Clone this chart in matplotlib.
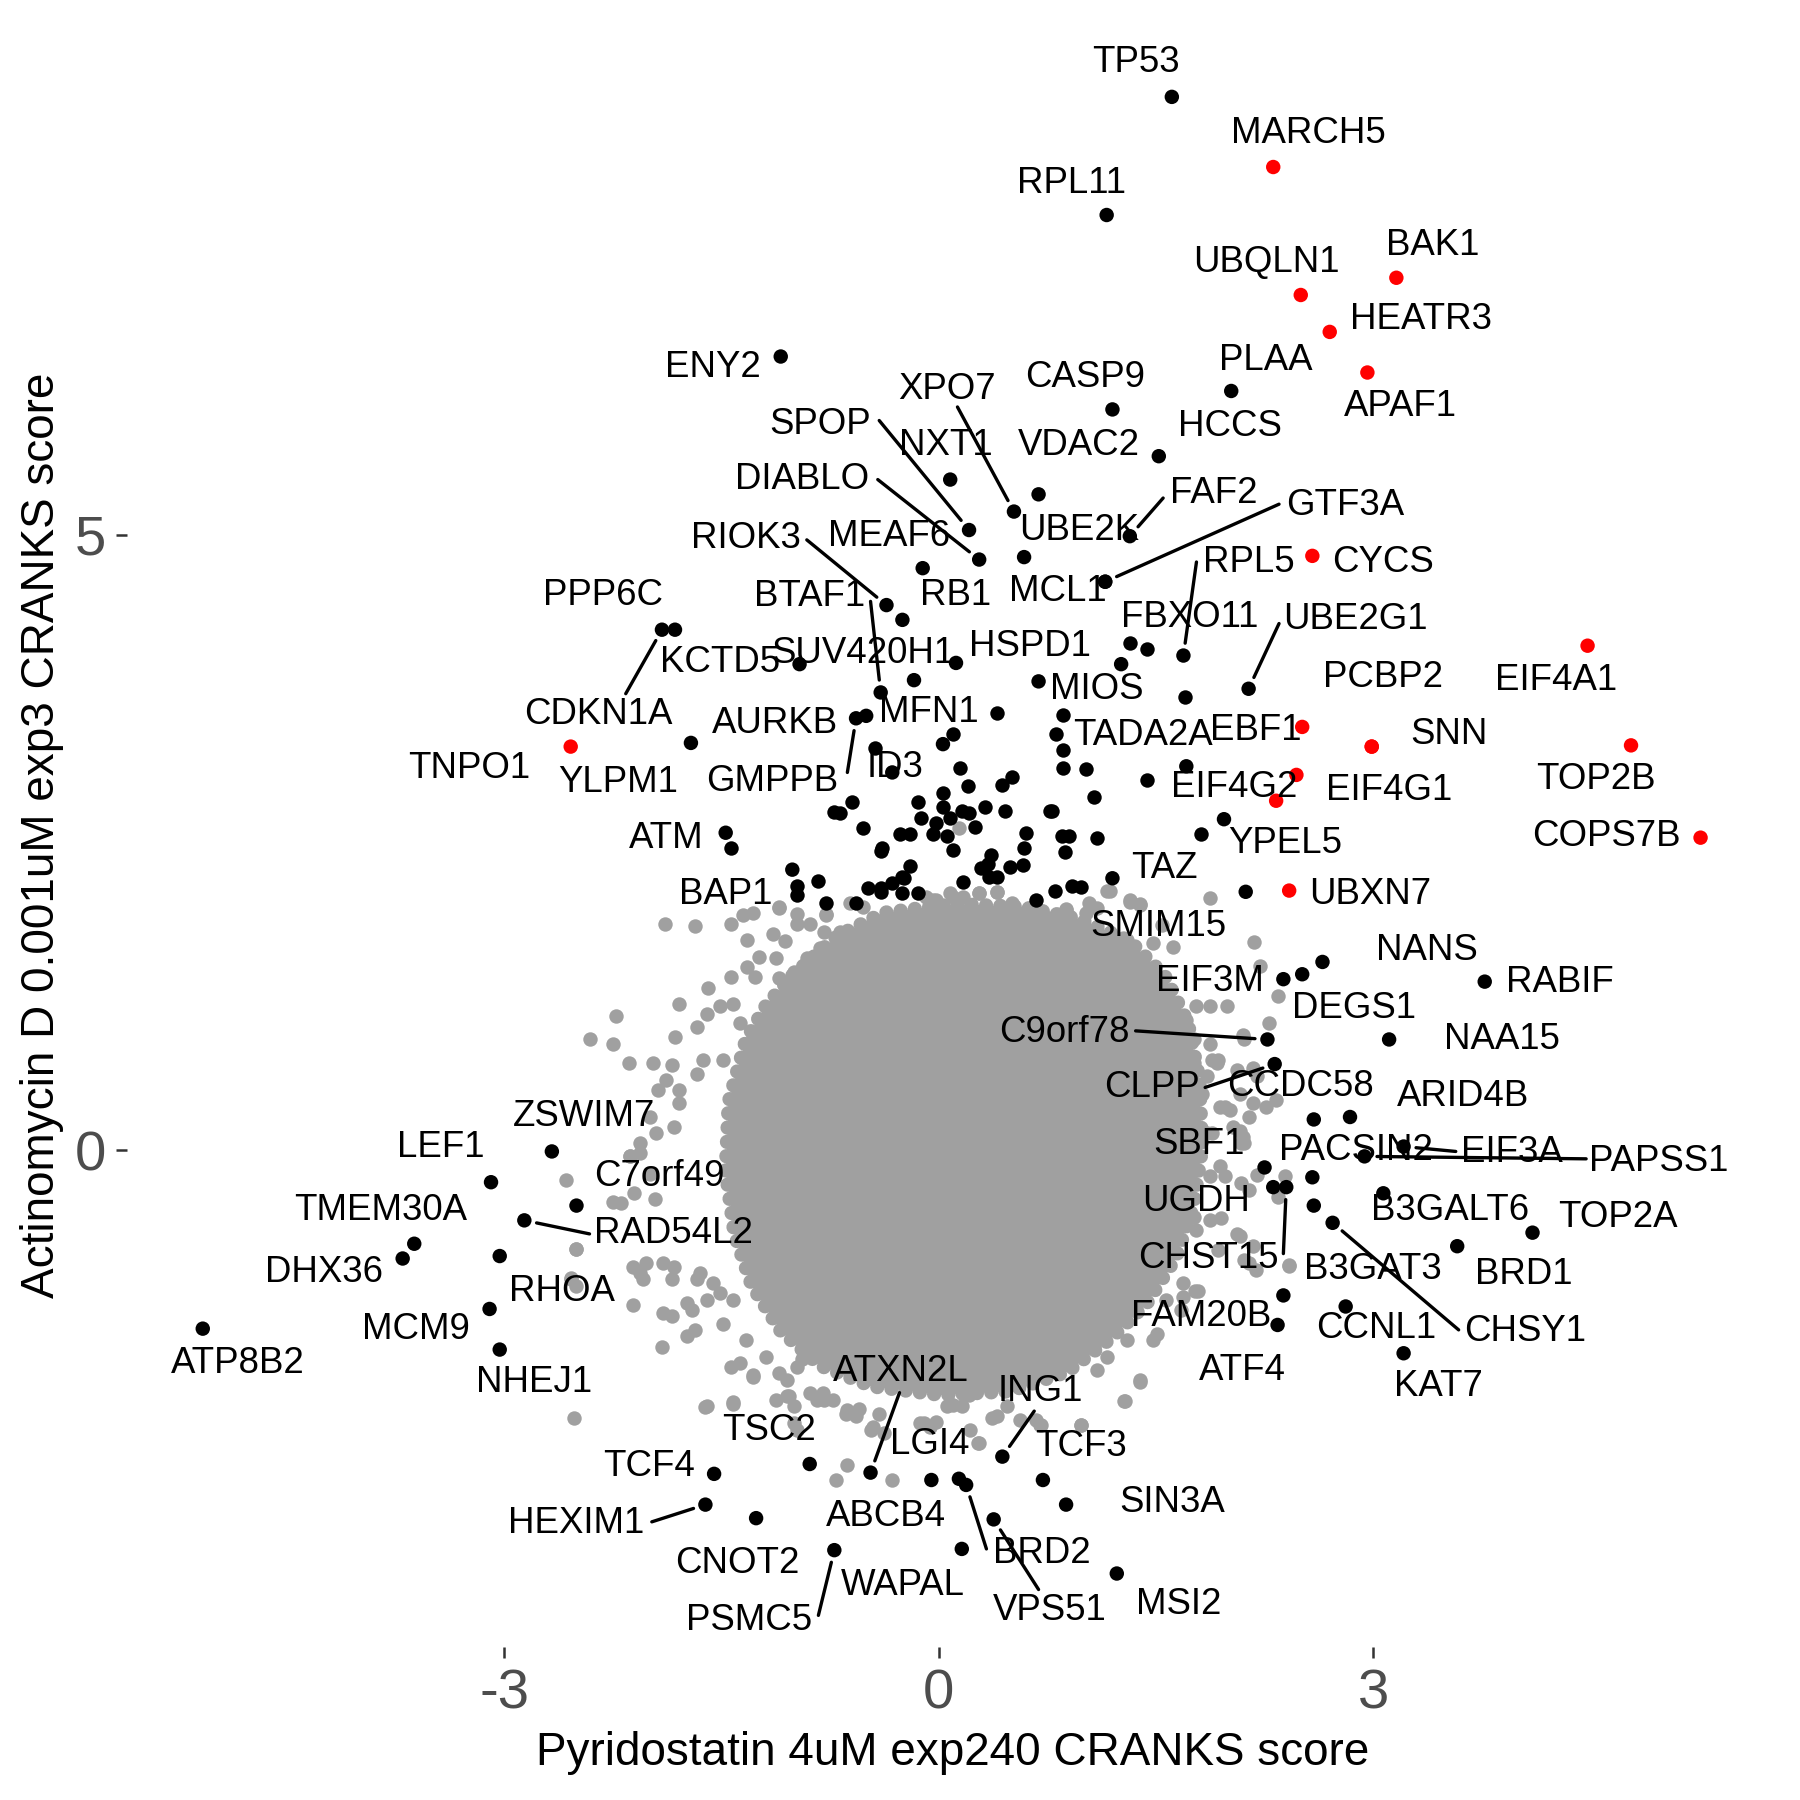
import matplotlib
matplotlib.use("Agg")
import matplotlib.pyplot as plt

plt.rcParams['font.family'] = ['Liberation Sans', 'DejaVu Sans']
plt.rcParams['axes.unicode_minus'] = False

# ---- data -------------------------------------------------------------
# labelled genes: name, x score, y score, hit (red) or not
genes = ["TP53", "MARCH5", "RPL11", "BAK1", "UBQLN1", "HEATR3", "APAF1", "ENY2",
         "PLAA", "CASP9", "HCCS", "VDAC2", "XPO7", "NXT1", "SPOP", "DIABLO",
         "MEAF6", "UBE2K", "FAF2", "GTF3A", "MCL1", "RB1", "BTAF1", "RIOK3",
         "PPP6C", "CDKN1A", "KCTD5", "SUV420H1", "HSPD1", "MIOS", "FBXO11", "RPL5",
         "UBE2G1", "CYCS", "EIF4A1", "PCBP2", "SNN", "EBF1", "EIF4G1", "EIF4G2",
         "TADA2A", "MFN1", "AURKB", "GMPPB", "ID3", "YLPM1", "TNPO1", "ATM",
         "BAP1", "TAZ", "YPEL5", "SMIM15", "UBXN7", "TOP2B", "COPS7B", "NANS",
         "RABIF", "EIF3M", "DEGS1", "NAA15", "C9orf78", "CLPP", "CCDC58", "ARID4B",
         "SBF1", "PACSIN2", "EIF3A", "PAPSS1", "UGDH", "CHST15", "B3GALT6", "B3GAT3",
         "CHSY1", "TOP2A", "BRD1", "FAM20B", "ATF4", "CCNL1", "KAT7", "LEF1",
         "ZSWIM7", "C7orf49", "RAD54L2", "TMEM30A", "DHX36", "RHOA", "MCM9", "NHEJ1",
         "ATP8B2", "ATXN2L", "ING1", "TSC2", "LGI4", "TCF3", "TCF4", "SIN3A",
         "HEXIM1", "ABCB4", "CNOT2", "BRD2", "WAPAL", "VPS51", "MSI2", "PSMC5"]
gene_x = [1.61, 2.31, 1.16, 3.16, 2.50, 2.70, 2.96, -1.09,
          2.02, 1.20, 1.52, 0.69, 0.52, 0.08, 0.21, 0.28,
          -0.11, 0.59, 1.32, 1.15, 1.15, -0.25, -0.40, -0.36,
          -1.82, -1.91, -0.96, -0.17, 0.12, 0.69, 1.26, 1.69,
          2.14, 2.58, 4.48, 2.99, 2.99, 2.51, 2.47, 2.33,
          1.71, 0.03, -0.50, -0.57, -0.32, -1.71, -2.54, -1.47,
          -1.01, 1.20, 1.97, 2.12, 2.42, 4.78, 5.26, 2.65,
          3.77, 2.38, 2.51, 3.11, 2.27, 2.32, 2.59, 2.84,
          2.25, 2.58, 3.21, 2.94, 2.31, 2.40, 3.07, 2.59,
          2.72, 4.10, 3.58, 2.38, 2.34, 2.81, 3.21, -3.09,
          -2.67, -2.50, -2.86, -3.62, -3.70, -3.03, -3.10, -3.03,
          -5.08, -0.47, 0.44, -0.89, -0.05, 0.72, -1.55, 0.88,
          -1.61, 0.14, -1.26, 0.19, 0.16, 0.38, 1.23, -0.72]
gene_y = [8.56, 7.99, 7.60, 7.09, 6.95, 6.65, 6.32, 6.45,
          6.17, 6.02, 5.64, 5.33, 5.19, 5.45, 5.04, 4.80,
          4.73, 4.82, 4.99, 4.62, 4.62, 4.31, 3.72, 4.43,
          4.23, 4.23, 3.95, 3.82, 3.96, 3.81, 3.95, 4.02,
          3.75, 4.83, 4.10, 3.28, 3.28, 3.44, 3.05, 2.84,
          3.12, 3.30, 3.53, 3.51, 3.07, 3.31, 3.28, 2.58,
          2.28, 2.21, 2.69, 2.10, 2.11, 3.29, 2.54, 1.53,
          1.37, 1.39, 1.43, 0.90, 0.90, 0.70, 0.25, 0.27,
          -0.14, -0.22, 0.03, -0.05, -0.30, -0.30, -0.35, -0.45,
          -0.59, -0.67, -0.78, -1.18, -1.42, -1.27, -1.65, -0.26,
          -0.01, -0.45, -0.57, -0.76, -0.88, -0.86, -1.29, -1.62,
          -1.45, -2.62, -2.49, -2.55, -2.68, -2.68, -2.63, -2.88,
          -2.88, -2.67, -2.99, -2.72, -3.24, -3.00, -3.44, -3.25]
hits = {"MARCH5", "BAK1", "UBQLN1", "HEATR3", "APAF1", "CYCS", "EIF4A1", "PCBP2",
        "SNN", "EBF1", "EIF4G1", "EIF4G2", "TNPO1", "UBXN7", "TOP2B", "COPS7B"}

# other significant (black) genes without a label
other_x = [-0.44, -0.72, -0.68, -0.60, -0.52, -0.14, -0.12, 0.03, -0.39, -0.27,
           -0.20, -0.04, -0.02, -0.83, -0.98, -0.98, -0.20, -0.25, -0.32, -0.40,
           -0.78, -0.57, -0.49, -0.40, -0.14, -0.25, -0.24, -0.40, 0.40, 0.86,
           0.81, 0.86, 0.86, 1.02, 1.44, 1.07, 0.10, 0.15, 0.20, 0.03,
           0.08, 0.16, 0.21, 0.32, 0.46, 0.44, 0.51, 0.25, 0.06, 0.10,
           0.17, 0.29, 0.35, 0.40, 0.34, 0.49, 0.58, 0.59, 0.60, 0.36,
           0.67, 0.80, 0.92, 0.98, 0.77, 0.78, 0.85, 0.90, 0.87, 1.09,
           1.32, 1.44, 1.70, 1.81, -1.43]
other_y = [3.27, 2.75, 2.74, 2.83, 2.62, 2.83, 2.70, 2.90, 2.46, 2.57,
           2.57, 2.57, 2.66, 2.19, 2.15, 2.07, 2.31, 2.22, 2.17, 2.13,
           2.01, 2.01, 2.13, 2.10, 2.09, 2.09, 2.21, 2.43, 3.55, 3.54,
           3.38, 3.25, 3.11, 3.10, 3.01, 2.87, 3.38, 3.11, 2.96, 2.79,
           2.70, 2.76, 2.74, 2.79, 2.76, 2.97, 3.03, 2.63, 2.55, 2.44,
           2.18, 2.29, 2.22, 2.22, 2.33, 2.30, 2.32, 2.46, 2.58, 2.40,
           2.03, 2.11, 2.15, 2.14, 2.76, 2.76, 2.55, 2.55, 2.42, 2.54,
           4.12, 4.07, 3.68, 2.57, 2.46]

# non-significant genes: outline of the dense core plus the scattered ones around it
core_x = [-1.01, -0.70, -0.38, 0.10, 0.57, 0.97, 1.32, 1.56, 1.72, 1.80,
          1.82, 1.76, 1.64, 1.44, 1.20, 0.89, 0.49, 0.02, -0.46, -0.82,
          -1.09, -1.29, -1.41, -1.47, -1.45, -1.33, -1.19]
core_y = [1.42, 1.74, 1.93, 2.00, 1.98, 1.88, 1.70, 1.42, 1.04, 0.58,
          0.02, -0.45, -0.87, -1.24, -1.52, -1.80, -1.96, -1.99, -1.92, -1.75,
          -1.47, -1.10, -0.68, -0.17, 0.39, 0.90, 1.18]

ns_x = [-1.89, -1.68, -1.43, -1.32, -1.32, -1.43, -1.59, -1.79, -2.23, -2.41,
        -2.25, -2.14, -1.97, -1.84, -1.82, -1.51, -1.60, -1.42, -1.67, -1.24,
        -1.12, -1.06, -1.14, -1.28, -1.35, -1.10, -0.98, -0.89, -0.79, -0.78,
        -0.68, -0.91, -0.82, -1.27, -1.10, -1.00, -1.94, -1.88, -1.79, -1.99,
        -2.13, -2.06, -1.95, -1.83, -1.79, -1.67, -1.63, -1.49, -1.28, -1.37,
        -1.28,
        -2.57, -2.50, -2.54, -2.11, -1.90, -1.84, -1.91, -1.74, -1.68, -1.74,
        -1.70, -2.06, -2.04, -2.11, -2.02, -1.90, -1.83, -1.84, -1.60, -1.49,
        -1.43, -1.37, -1.28, -1.60, -1.42, -2.52, -2.25, -2.19, -2.10, -1.96,
        -2.13, -2.06, -1.99, -1.67, -1.65, -1.51, -1.56, -1.42, -1.33, -1.19,
        -1.10, -1.05, -1.00, -1.12, -1.05, -0.98, -0.94, -0.84, -0.80, -0.64,
        -0.57, -0.45, -0.38, -0.13, -0.06, -0.41, 0.08, -1.00, -0.98, -0.73,
        -2.50, -2.54, -2.50,
        -0.63, -0.71, -0.32, -1.61, -1.42, -1.28, 0.27, 0.22, 1.39, 1.29,
        0.98, 0.70, 0.56, 0.40, -0.63, -0.55, -0.47, -0.10, -0.02, -1.03,
        -0.89, -0.79, 0.32, 0.11, 0.16, 0.06,
        2.09, 2.20, 2.39, 2.34, 2.08, 2.17, 2.19, 2.11, 2.42, 1.95,
        1.87, 1.76, 1.78, 1.94, 1.87, 1.69, 1.79, 1.57, 1.69, 1.48,
        1.30, 1.36, 1.16, 1.07, 1.09, 1.39, 1.28, 0.98, 0.71, 0.67,
        0.47, 0.37, 0.28, 0.21, 0.10, 1.48, 1.39, 1.62,
        1.87, 2.18, 2.22, 2.34, 2.28, 2.11, 2.10, 2.17, 2.33, 2.26,
        2.10, 2.11, 1.89, 1.92, 1.87, 1.76, 1.76, 1.69, 1.64, 1.62,
        1.71, 1.78, 1.87, 1.99, 1.46, 1.40, 1.11, 1.20, 1.32, 1.39,
        1.16, 1.02, 1.09, 1.62, 1.48, 1.30, 1.54, 0.88, 0.75, 0.40,
        0.28, 0.10, -0.04, 2.01, 1.94, 2.08, 2.17, 1.89, 2.03, 1.85,
        1.82, 2.08,
        0.14, -1.10, -0.98, -0.78, -0.61, -0.52, -0.09, -0.02, 0.08, 0.17,
        0.28, 0.40, 0.51, 0.65, 0.88, 1.04, 1.18, 1.32, 1.39,
        1.93, 2.06, 2.20, 1.72, 1.98, 2.14, 1.85, 2.09, 1.98, 2.14,
        2.06, 1.93, 2.14, 1.77, 1.67, 1.51, 2.42]
ns_y = [1.84, 1.82, 1.84, 1.71, 1.49, 1.41, 1.32, 1.19, 1.09, 0.90,
        0.86, 0.71, 0.71, 0.69, 0.92, 1.17, 1.11, 1.19, 1.00, 1.57,
        1.56, 1.70, 1.76, 1.93, 1.91, 1.97, 1.84, 1.84, 1.77, 1.91,
        1.77, 1.56, 1.64, 1.41, 1.40, 1.45, 0.49, 0.57, 0.49, 0.27,
        -0.05, 0.06, 0.14, 0.19, 0.38, 0.62, 0.73, 0.73, 0.82, 1.03,
        0.92,
        -0.24, -0.80, -1.04, -1.26, -1.32, -1.35, -1.60, -1.51, -1.46, -1.24,
        -1.30, -1.00, -1.05, -0.95, -0.92, -0.92, -0.95, -1.05, -1.22, -1.41,
        -1.76, -1.73, -1.84, -2.08, -2.06, -2.18, -0.42, -0.43, -0.35, -0.40,
        -0.05, -0.02, -0.19, -1.05, -1.00, -1.16, -1.08, -1.22, -1.54, -1.68,
        -1.81, -1.87, -2.08, -2.03, -2.00, -1.76, -1.70, -2.03, -1.97, -2.14,
        -2.16, -2.25, -2.30, -2.22, -2.25, -2.14, -2.06, -2.22, -2.27, -2.03,
        -0.80, -1.05, -1.10,
        -2.56, -2.68, -2.68, -2.09, -2.05, -1.83, -2.38, -2.27, -1.88, -2.04,
        -2.23, -2.23, -2.19, -2.16, -2.11, -2.10, -2.27, -2.22, -2.21, -2.00,
        -1.97, -2.03, -1.76, -1.87, -2.08, -2.08,
        -0.27, -0.20, -0.21, -0.38, -0.70, -0.78, -0.97, -0.89, -0.94, -0.55,
        -0.57, -0.54, -0.65, -0.13, -0.21, -1.08, -1.14, -1.22, -1.19, -1.54,
        -1.54, -1.30, -1.68, -1.60, -1.79, -1.87, -2.04, -2.23, -2.23, -2.19,
        -2.08, -2.18, -2.38, -1.99, -2.07, -1.05, -1.03, -0.73,
        2.05, 1.69, 1.50, 1.25, 1.03, 0.90, 0.94, 0.67, 0.41, 0.35,
        0.11, 0.06, 0.73, 0.71, 0.86, 0.71, 0.90, 0.84, 0.90, 1.10,
        1.06, 1.17, 1.17, 1.17, 1.44, 1.38, 1.52, 1.41, 2.02, 1.99,
        2.11, 1.93, 1.97, 1.65, 1.68, 1.71, 1.83, 1.95, 1.89, 2.10,
        2.09, 2.06, 2.03, 0.33, 0.35, 0.46, 0.38, 0.14, 0.19, 0.60,
        0.46, 0.16,
        2.62, 1.98, 1.92, 1.92, 2.01, 1.98, 2.06, 2.03, 2.09, 2.06,
        2.09, 2.10, 2.01, 1.98, 1.96, 2.01, 2.11, 2.03, 2.00,
        0.73, 0.65, 0.60, 0.41, 0.35, 0.27, 0.14, 0.06, -0.21, -0.32,
        -0.68, -0.81, -0.92, -1.14, -1.30, -1.49, -0.93]

# ---- label layout (text centre) and leader lines ------------------------
label_pos = {
    "TP53": (1.36, 8.84), "MARCH5": (2.55, 8.26), "RPL11": (0.92, 7.86),
    "BAK1": (3.41, 7.35), "UBQLN1": (2.26, 7.21), "HEATR3": (3.33, 6.75),
    "APAF1": (3.19, 6.04), "ENY2": (-1.56, 6.36), "PLAA": (2.26, 6.42),
    "CASP9": (1.01, 6.28), "HCCS": (2.01, 5.88), "VDAC2": (0.97, 5.73),
    "XPO7": (0.06, 6.18), "NXT1": (0.05, 5.73), "SPOP": (-0.82, 5.90),
    "DIABLO": (-0.94, 5.45), "MEAF6": (-0.34, 4.99), "UBE2K": (0.97, 5.04),
    "FAF2": (1.90, 5.34), "GTF3A": (2.81, 5.24), "MCL1": (0.82, 4.54),
    "RB1": (0.12, 4.51), "BTAF1": (-0.89, 4.50), "RIOK3": (-1.33, 4.97),
    "PPP6C": (-2.32, 4.51), "CDKN1A": (-2.35, 3.54), "KCTD5": (-1.51, 3.96),
    "SUV420H1": (-0.52, 4.04), "HSPD1": (0.63, 4.09), "MIOS": (1.09, 3.74),
    "FBXO11": (1.73, 4.33), "RPL5": (2.14, 4.78), "UBE2G1": (2.88, 4.31),
    "CYCS": (3.07, 4.78), "EIF4A1": (4.26, 3.82), "PCBP2": (3.07, 3.84),
    "SNN": (3.52, 3.38), "EBF1": (2.19, 3.41), "EIF4G1": (3.11, 2.92),
    "EIF4G2": (2.04, 2.95), "TADA2A": (1.41, 3.37), "MFN1": (-0.07, 3.56),
    "AURKB": (-1.13, 3.47), "GMPPB": (-1.15, 3.00), "ID3": (-0.30, 3.11),
    "YLPM1": (-2.21, 2.99), "TNPO1": (-3.24, 3.10), "ATM": (-1.88, 2.53),
    "BAP1": (-1.47, 2.08), "TAZ": (1.56, 2.29), "YPEL5": (2.39, 2.49),
    "SMIM15": (1.52, 1.82), "UBXN7": (2.98, 2.08), "TOP2B": (4.54, 3.01),
    "COPS7B": (4.61, 2.55), "NANS": (3.37, 1.62), "RABIF": (4.29, 1.36),
    "EIF3M": (1.87, 1.37), "DEGS1": (2.87, 1.15), "NAA15": (3.89, 0.90),
    "C9orf78": (0.87, 0.96), "CLPP": (1.47, 0.51), "CCDC58": (2.50, 0.52),
    "ARID4B": (3.62, 0.44), "SBF1": (1.80, 0.05), "PACSIN2": (2.88, 0.00),
    "EIF3A": (3.96, -0.02), "PAPSS1": (4.97, -0.09), "UGDH": (1.78, -0.42),
    "CHST15": (1.86, -0.88), "B3GALT6": (3.53, -0.49), "B3GAT3": (3.00, -0.97),
    "CHSY1": (4.05, -1.47), "TOP2A": (4.69, -0.55), "BRD1": (4.04, -1.01),
    "FAM20B": (1.81, -1.35), "ATF4": (2.10, -1.79), "CCNL1": (3.02, -1.45),
    "KAT7": (3.45, -1.92), "LEF1": (-3.44, 0.02), "ZSWIM7": (-2.45, 0.27),
    "C7orf49": (-1.93, -0.21), "RAD54L2": (-1.83, -0.68), "TMEM30A": (-3.85, -0.49),
    "DHX36": (-4.24, -0.99), "RHOA": (-2.60, -1.15), "MCM9": (-3.61, -1.46),
    "NHEJ1": (-2.79, -1.89), "ATP8B2": (-4.84, -1.73), "ATXN2L": (-0.26, -1.80),
    "ING1": (0.70, -1.96), "TSC2": (-1.17, -2.28), "LGI4": (-0.06, -2.39),
    "TCF3": (0.98, -2.41), "TCF4": (-2.00, -2.57), "SIN3A": (1.61, -2.86),
    "HEXIM1": (-2.50, -3.03), "ABCB4": (-0.36, -2.98), "CNOT2": (-1.39, -3.36),
    "BRD2": (0.71, -3.28), "WAPAL": (-0.25, -3.54), "VPS51": (0.77, -3.74),
    "MSI2": (1.66, -3.69), "PSMC5": (-1.31, -3.82),
}
segment_from = {
    "XPO7": (0.13, 6.04), "SPOP": (-0.41, 5.93), "DIABLO": (-0.42, 5.45),
    "FAF2": (1.55, 5.30), "GTF3A": (2.35, 5.25), "RIOK3": (-0.91, 4.96),
    "BTAF1": (-0.47, 4.46), "CDKN1A": (-2.16, 3.71), "RPL5": (1.78, 4.78),
    "UBE2G1": (2.35, 4.28), "GMPPB": (-0.63, 3.07), "RAD54L2": (-2.41, -0.68),
    "C9orf78": (1.36, 0.97), "CLPP": (1.84, 0.51), "EIF3A": (3.57, -0.01),
    "PAPSS1": (4.47, -0.07), "CHST15": (2.38, -0.84), "CHSY1": (3.59, -1.46),
    "ATXN2L": (-0.27, -1.97), "ING1": (0.66, -2.12), "HEXIM1": (-1.98, -3.02),
    "PSMC5": (-0.83, -3.78), "BRD2": (0.33, -3.24), "VPS51": (0.69, -3.57),
}

grey = "#a0a0a0"
dot = 12

fig = plt.figure(figsize=(6, 6), dpi=300)
ax = fig.add_axes([0.0708, 0.0848, 0.9158, 0.9024])

# dense core: filled outline, border drawn as a string of round dots
ax.fill(core_x, core_y, color=grey, lw=0, zorder=1)
ax.plot(core_x + core_x[:1], core_y + core_y[:1], color=grey, lw=3.4,
        linestyle=(0, (0.01, 1.0)), dash_capstyle="round", zorder=1)
ax.scatter(ns_x, ns_y, s=dot, color=grey, linewidths=0, zorder=2)
ax.scatter(other_x, other_y, s=dot, color="black", linewidths=0, zorder=3)

cols = ["#ff0000" if g in hits else "black" for g in genes]
ax.scatter(gene_x, gene_y, s=dot, c=cols, linewidths=0, zorder=3)

for g, x, y in zip(genes, gene_x, gene_y):
    if g in segment_from:
        ax.annotate("", xy=(x, y), xytext=segment_from[g],
                    arrowprops=dict(arrowstyle="-", lw=0.8, color="black",
                                    shrinkA=0, shrinkB=3), zorder=4)
    lx, ly = label_pos[g]
    ax.text(lx, ly, g, fontsize=8.8, ha="center", va="center", color="black", zorder=5)

ax.set_xlim(-5.60, 5.78)
ax.set_ylim(-4.04, 9.16)
for s in ax.spines.values():
    s.set_visible(False)
ax.set_xticks([-3, 0, 3])
ax.set_yticks([0, 5])
ax.tick_params(length=2.6, width=0.6, color="#333333", labelcolor="#4d4d4d",
               labelsize=13.5, pad=2.5)

fig.text(0.529, 0.026, "Pyridostatin 4uM exp240 CRANKS score", ha="center", va="center",
         fontsize=11)
fig.text(0.0236, 0.536, "Actinomycin D 0.001uM exp3 CRANKS score", ha="center",
         va="center", rotation=90, fontsize=11)

fig.savefig("out.png", dpi=300)
